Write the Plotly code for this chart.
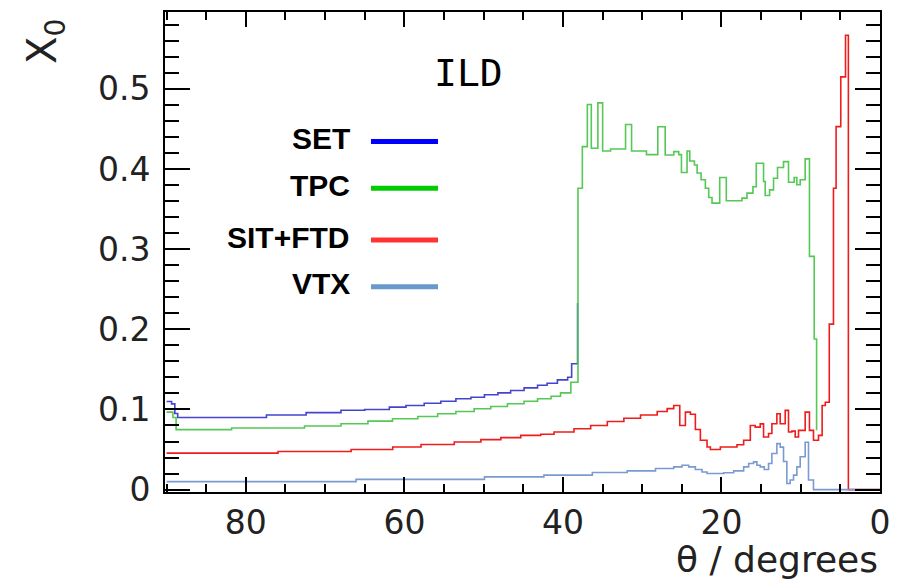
import plotly.graph_objects as go

# ---------------- data (theta bin edges in degrees, material budget X0) ----------------
set_theta = [90, 89.37, 88.96, 88.6, 77.4, 72.4, 68.0, 65.0, 61.9, 59.8, 57.5, 55.4, 53.5,
             51.6, 49.9, 48.2, 46.6, 44.9, 43.2, 42.0, 40.7, 39.4, 38.9, 38.15]
set_x0 = [0.110, 0.107, 0.095, 0.090, 0.093, 0.096, 0.099, 0.1000, 0.1029, 0.1050, 0.1078,
          0.1103, 0.1133, 0.1153, 0.1183, 0.1207, 0.1236, 0.1270, 0.1302, 0.1327, 0.1369,
          0.1402, 0.157, 0.233]

tpc_theta = [90, 89.2, 88.8, 81.8, 72.6, 68.0, 64.6, 61.5, 58.3, 55.8, 53.5, 51.2, 49.1, 47.0,
             44.9, 43.2, 41.5, 40.3, 39.0, 38.1, 37.55, 36.92, 36.42, 35.59, 34.99, 33.99,
             32.10, 31.34, 29.46, 28.03, 27.10, 26.02, 25.39, 25.05, 24.34, 24.00, 23.41,
             23.07, 22.57, 22.03, 21.61, 21.19, 20.22, 19.39, 17.41, 16.78, 16.03, 15.61,
             14.69, 14.48, 13.93, 13.43, 12.93, 12.17, 11.54, 10.83, 10.49, 10.07, 9.44,
             8.90, 8.30, 8.0]
tpc_x0 = [0.0967, 0.090, 0.0748, 0.0768, 0.0793, 0.0822, 0.0855, 0.0884, 0.0913, 0.0947,
          0.0975, 0.1009, 0.1037, 0.1071, 0.1103, 0.1133, 0.1165, 0.1207, 0.1339, 0.376,
          0.428, 0.4805, 0.426, 0.4826, 0.4226, 0.425, 0.4557, 0.4226, 0.418, 0.4528, 0.4176,
          0.4217, 0.418, 0.3957, 0.4226, 0.410, 0.405, 0.395, 0.3866, 0.376, 0.3646, 0.3575,
          0.3894, 0.3605, 0.3637, 0.370, 0.378, 0.4072, 0.3845, 0.367, 0.374, 0.3886, 0.4019,
          0.4093, 0.3836, 0.3894, 0.3804, 0.3866, 0.4127, 0.291, 0.188, 0.074]

sit_theta = [90, 75.94, 66.72, 61.47, 57.9, 53.71, 50.35, 47.83, 45.32, 42.8, 41.12, 38.6,
             36.5, 34.4, 32.31, 30.21, 28.11, 26.85, 26.02, 25.26, 24.55, 23.92, 23.29, 22.66,
             21.82, 21.40, 20.14, 18.04, 17.20, 16.36, 15.74, 15.11, 14.69, 14.06, 13.64,
             13.01, 12.59, 11.96, 11.54, 11.12, 10.70, 10.28, 9.44, 8.90, 8.39, 7.76, 7.30,
             6.90, 6.40, 5.87, 5.54, 4.95, 4.35, 3.99, 0.0]
sit_x0 = [0.0455, 0.0475, 0.050, 0.0532, 0.0562, 0.0594, 0.0624, 0.0649, 0.0677, 0.0690,
          0.0718, 0.076, 0.080, 0.085, 0.089, 0.093, 0.0975, 0.101, 0.105, 0.080, 0.0967,
          0.094, 0.075, 0.0615, 0.0532, 0.050, 0.0532, 0.056, 0.0615, 0.080, 0.078, 0.082,
          0.0656, 0.070, 0.0822, 0.0946, 0.0822, 0.0988, 0.0718, 0.073, 0.0656, 0.0739,
          0.0967, 0.0739, 0.0615, 0.0677, 0.105, 0.109, 0.2065, 0.376, 0.453, 0.515, 0.567,
          0.0, 0.0]

vtx_theta = [90, 66.1, 49.9, 42.4, 36.29, 31.89, 28.32, 26.02, 24.97, 24.13, 23.29, 22.45,
             21.82, 19.72, 18.46, 17.20, 16.57, 15.95, 15.53, 15.11, 14.60, 14.06, 13.64,
             13.01, 12.59, 12.17, 11.75, 11.33, 10.91, 10.49, 10.07, 9.44, 9.02, 8.39, 0.0]
vtx_x0 = [0.0100, 0.0127, 0.0159, 0.018, 0.0213, 0.0234, 0.0263, 0.0284, 0.0304, 0.0284,
          0.025, 0.022, 0.020, 0.021, 0.0234, 0.0284, 0.0325, 0.0346, 0.0304, 0.0284, 0.025,
          0.0325, 0.045, 0.0574, 0.053, 0.035, 0.0077, 0.012, 0.018, 0.0284, 0.041, 0.059,
          0.012, 0.0, 0.0]

legend_labels = ["SET", "TPC", "SIT+FTD", "VTX"]
legend_colors = ["#0000ff", "#00cc00", "#ff3333", "#6699cc"]
line_colors = ["#4444d0", "#55c855", "#ee1c1c", "#7a9ad0"]

x_tick_vals = [0, 20, 40, 60, 80]
y_tick_vals = [0, 0.1, 0.2, 0.3, 0.4, 0.5]

# ---------------- figure ----------------
fig = go.Figure()
series = [(set_theta, set_x0), (tpc_theta, tpc_x0), (sit_theta, sit_x0), (vtx_theta, vtx_x0)]
for (th, val), name, col in zip(series, legend_labels, line_colors):
    fig.add_trace(go.Scatter(x=th, y=val, mode="lines", name=name,
                             line=dict(color=col, width=1.6, shape="hv"),
                             hoverinfo="skip", showlegend=False))

tick_font = dict(family="DejaVu Sans", size=33, color="#222222")
fig.update_xaxes(range=[90.2, 0], tickvals=x_tick_vals, ticks="inside", ticklen=15,
                 tickwidth=2, tickcolor="black", showline=True, linecolor="black",
                 linewidth=2, mirror="ticks", showgrid=False, zeroline=False,
                 tickfont=tick_font, ticklabelstandoff=0,
                 minor=dict(dtick=5, tick0=0, ticks="inside", ticklen=8, tickwidth=2,
                            tickcolor="black", showgrid=False))
fig.update_yaxes(range=[-0.003, 0.596], tickvals=y_tick_vals, ticks="inside", ticklen=25,
                 tickwidth=2, tickcolor="black", showline=True, linecolor="black",
                 linewidth=2, mirror="ticks", showgrid=False, zeroline=False,
                 tickfont=tick_font, ticklabelstandoff=6,
                 minor=dict(dtick=0.02, tick0=0, ticks="inside", ticklen=14, tickwidth=2,
                            tickcolor="black", showgrid=False))

W, H = 904, 584
ml, mr, mt, mb = 165, 24, 10, 92
pw, ph = W - ml - mr, H - mt - mb


def px(xp):
    return (xp - ml) / pw


def py(yp):
    return (H - mb - yp) / ph


annotations = []
shapes = []
legend_rows = [137, 184, 236, 283]
for lab, col, yr in zip(legend_labels, legend_colors, legend_rows):
    annotations.append(dict(x=px(352), y=py(yr), xref="paper", yref="paper", text="<b>%s</b>" % lab,
                            showarrow=False, xanchor="right", yanchor="middle",
                            font=dict(family="Liberation Sans", size=30, color="black")))
    shapes.append(dict(type="line", xref="paper", yref="paper", x0=px(371), x1=px(438),
                       y0=py(yr + 3), y1=py(yr + 3), line=dict(color=col, width=5)))

annotations.append(dict(x=px(468), y=py(71), xref="paper", yref="paper", text="ILD",
                        showarrow=False, xanchor="center", yanchor="middle",
                        font=dict(family="DejaVu Sans Mono", size=38, color="black")))
annotations.append(dict(x=px(879), y=py(560), xref="paper", yref="paper", text="θ / degrees",
                        showarrow=False, xanchor="right", yanchor="middle", borderpad=0,
                        font=dict(family="DejaVu Sans", size=36, color="#222222")))
annotations.append(dict(x=px(45), y=py(40), xref="paper", yref="paper", text="X<sub>0</sub>",
                        showarrow=False, xanchor="center", yanchor="middle", textangle=-90,
                        font=dict(family="DejaVu Sans", size=40, color="#222222")))

fig.update_layout(width=W, height=H, margin=dict(l=ml, r=mr, t=mt, b=mb),
                  paper_bgcolor="white", plot_bgcolor="white",
                  annotations=annotations, shapes=shapes, hovermode=False)

fig.write_html("out.html")
